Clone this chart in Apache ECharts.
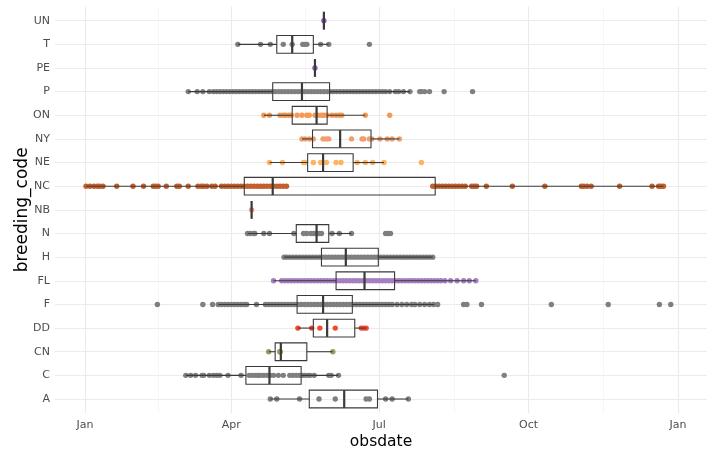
<!DOCTYPE html>
<html><head><meta charset="utf-8">
<script src="https://cdn.jsdelivr.net/npm/echarts@6/dist/echarts.min.js"></script>
<style>html,body{margin:0;padding:0;background:#fff}#chart{width:710px;height:453px}</style>
</head><body><div id="chart"></div>
<script>
// breeding codes, bottom to top
const categories = ['A','C','CN','DD','F','FL','H','N','NB','NC','NE','NY','ON','P','PE','T','UN'];

// obsdate as day of year (0 = Jan 1)
const daysA  = [114,118,132,144,154,173,175,185,189,199];
const daysC  = [62,65,68,72,73,76.5,79,81,83,88,96,101,103,105,106.5,108,110,112,114,116,119,122,126,128,130,132,134,135,137,138.5,141,150,151.5,156,258];
const daysCN = [113,120,120,120,152.5];
const daysDD = [131,139.5,144.5,154,170,171.5,173];
const daysF  = [44.5,72.5,78.5,82,84,86,88,90,92,94,96,98,99.5,105.5,111,113,115,117,119,121,123,125,127,129,131,133,135,137,139,141,143,145,147,149,151,153,155,157,159,161,163,165,167,169,171,173,175,177,179,181,183,185,187,189,192,195,198,201,203,206,209,212,214.5,217,233,235,244,287,322,353.5,360.5];
const daysFL = [116,121,123,125,127,129,131,133,135,137,139,141,143,145,147,149,151,153,155,157,159,161,163,165,167,169,171,173,175,177,179,181,183,185,187,189,191,193,195,197,199,201,203,205,207,209,211,213,215,217,219,221.5,225,229,233,236.5,240.5];
const daysH  = [122.5,124,126,128,130,132,134,136,138,140,142,144,146,148,150,152,154,156,158,160,162,164,166,168,170,172,174,176,178,180,182,184,186,188,190,192,194,196,198,200,202,204,206,208,210,212,214];
const daysN  = [100,101.5,103.5,104.5,110,113.5,128.5,134.5,136.5,139,140.5,142,144,145.5,152,156.5,164,185,186.5,188];
const daysNB = [102.5];
const daysNC = [0.6,3,5.5,7.5,9,11,19.5,29.5,36,42,43.5,45,50,56.5,58,63.5,69.5,71.5,73,75,78,80,84,86,88,90,92,94,96,98,100,102,104,106,108,110,112,114,116,118,120,122,124,214,216,218,220,222,224,226,228,230,232,234,238,239.5,241,247,263,283,305.5,307,309,311.5,329,349,353,354.5,356];
const daysNE = [113.5,121.5,134.5,135.5,140.5,145,146,148.5,154.5,157.5,167.5,172.5,177,184,207];
const daysNY = [133.5,135.5,138,140.5,146.5,148.5,150,164,170.5,171.5,175,176.5,181.5,186,189,193.5];
const daysON = [110,113.5,120,122,123.5,125.5,127,130.5,133.5,136.5,138,141.5,143.5,145.5,147,149,152,154.5,156.5,158,172.5,187.5];
const daysP  = [63.5,69,72.5,76.5,79,81,83,85,87,89,91,93,95,97,99,101,103,105,107,109,111,113,115,117,119,121,123,125,127,129,131,133,135,137,139,141,143,145,147,149,151,153,155,157,159,161,163,165,167,169,171,173,175,177,179,181,183,185,187.5,191,193,196,200,206,207,209,212,221,238.5];
const daysPE = [141.5];
const daysT  = [94,108,114,122,127.5,134,135,136.5,145,150,175];
const daysUN = [147];

// box statistics (aligned with categories)
const boxLow    = [114, 62,  113, 131, 82,  116, 122.5, 100, 102.5, 0.6,  113.5, 133.5, 110, 63.5, 141.5, 94,  147];
const boxQ1     = [138, 99,  117, 140.5,130.5,154.5,145.5, 130, 102.5, 98,   137,   140,   127.5,115.5,141.5, 118, 147];
const boxMedian = [159.5,113.5,120.5,149, 146.5,172, 160.5, 142.5,102.5,115.5,146.5, 157,   142.5,133.5,141.5, 127.5,147];
const boxQ3     = [180, 133, 136.5,166, 164.5,190.5,180.5, 150, 102.5, 215.5,165,   176,   149, 150.5,141.5, 140.5,147];
const boxHigh   = [199, 156, 152.5,173, 215,  240.5,214,   164, 102.5, 356,  184,   193.5, 172.5,200, 141.5, 150, 147];

const xTickDays   = [0, 90, 181, 273, 365];
const xTickLabels = ['Jan', 'Apr', 'Jul', 'Oct', 'Jan'];
const xMinorDays  = [45, 135.5, 227, 319];

const pointSets = [daysA,daysC,daysCN,daysDD,daysF,daysFL,daysH,daysN,daysNB,daysNC,daysNE,daysNY,daysON,daysP,daysPE,daysT,daysUN];
const pointColors = ['#7f7f7f','#7f7f7f','#9c9c5c','#ef4a2f','#7f7f7f','#a67fc1','#7f7f7f','#7f7f7f','#f08c8c','#c35f2b','#fdb462','#f0a070','#f59a55','#7f7f7f','#8c5db6','#7f7f7f','#8c5db6'];

const font = 'DejaVu Sans';
const series = [];
pointSets.forEach((arr, i) => {
  series.push({
    type: 'scatter', xAxisIndex: 0, yAxisIndex: 0, z: 2,
    symbolSize: 5.4, silent: true,
    itemStyle: { color: pointColors[i], opacity: 1 },
    data: arr.map(d => [d, i])
  });
});
series.push({
  type: 'custom', xAxisIndex: 0, yAxisIndex: 0, z: 5, silent: true,
  encode: { x: [1, 2, 3, 4, 5], y: 0 },
  data: categories.map((c, i) => [i, boxLow[i], boxQ1[i], boxMedian[i], boxQ3[i], boxHigh[i]]),
  renderItem: function (params, api) {
    const y = api.value(0);
    const lo = api.coord([api.value(1), y]);
    const q1 = api.coord([api.value(2), y]);
    const md = api.coord([api.value(3), y]);
    const q3 = api.coord([api.value(4), y]);
    const hi = api.coord([api.value(5), y]);
    const h = Math.abs(api.size([0, 1])[1]) * 0.375;
    const cy = lo[1];
    const stroke = '#3a3a3a';
    return { type: 'group', children: [
      { type: 'line', shape: { x1: lo[0], y1: cy, x2: q1[0], y2: cy }, style: { stroke: stroke, lineWidth: 1.1 } },
      { type: 'line', shape: { x1: q3[0], y1: cy, x2: hi[0], y2: cy }, style: { stroke: stroke, lineWidth: 1.1 } },
      { type: 'rect', shape: { x: q1[0], y: cy - h, width: q3[0] - q1[0], height: 2 * h }, style: { fill: 'none', stroke: stroke, lineWidth: 1.1 } },
      { type: 'line', shape: { x1: md[0], y1: cy - h, x2: md[0], y2: cy + h }, style: { stroke: stroke, lineWidth: 2.2 } }
    ]};
  }
});

const chart = echarts.init(document.getElementById('chart'), null, { renderer: 'canvas' });
chart.setOption({
  animation: false,
  backgroundColor: '#ffffff',
  grid: { left: 55, right: 3, top: 6.5, bottom: 39.8, containLabel: false, outerBoundsMode: 'none' },
  xAxis: [{
    type: 'value', min: -18.5, max: 382.8, position: 'bottom',
    name: 'obsdate', nameLocation: 'middle', nameGap: 21, nameMoveOverlap: false,
    nameTextStyle: { fontFamily: font, fontSize: 15.5, color: '#000' },
    axisLine: { show: false },
    axisTick: { show: false, customValues: xTickDays },
    axisLabel: { customValues: xTickDays, margin: 6, fontFamily: font, fontSize: 11, color: '#4d4d4d',
      formatter: v => xTickLabels[xTickDays.indexOf(v)] },
    splitLine: { show: true, lineStyle: { color: '#ebebeb', width: 1.1 } }
  }, {
    type: 'value', min: -18.5, max: 382.8, position: 'top',
    axisLine: { show: false },
    axisTick: { show: false, customValues: xMinorDays },
    axisLabel: { show: false, customValues: xMinorDays },
    splitLine: { show: true, lineStyle: { color: '#f0f0f0', width: 0.6 } }
  }],
  yAxis: {
    type: 'value', min: -0.6, max: 16.6,
    name: 'breeding_code', nameLocation: 'middle', nameGap: 24, nameRotate: 90, nameMoveOverlap: false,
    nameTextStyle: { fontFamily: font, fontSize: 17, color: '#000' },
    axisLine: { show: false },
    axisTick: { show: false, customValues: categories.map((c, i) => i) },
    axisLabel: { customValues: categories.map((c, i) => i), margin: 5, fontFamily: font, fontSize: 11, color: '#4d4d4d',
      formatter: v => categories[Math.round(v)] },
    splitLine: { show: true, lineStyle: { color: '#ebebeb', width: 1.1 } }
  },
  series: series
});
</script>
</body></html>
